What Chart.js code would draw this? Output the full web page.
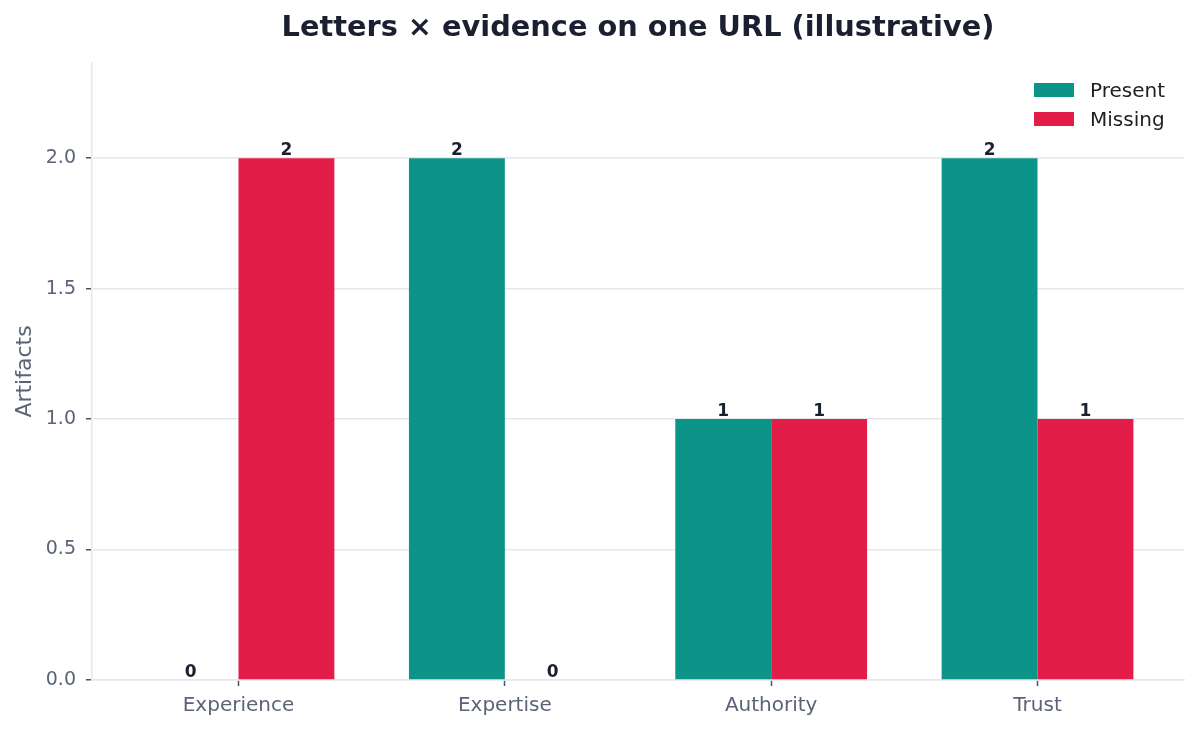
<!DOCTYPE html>
<html>
<head>
<meta charset="utf-8">
<script src="https://cdn.jsdelivr.net/npm/chart.js@4"></script>
<style>
html,body{margin:0;padding:0;background:#fff;}
#wrap{width:1199px;height:731px;position:relative;}
</style>
</head>
<body>
<div id="wrap"><canvas id="c"></canvas></div>
<script>
const categories = ["Experience", "Expertise", "Authority", "Trust"];
const presentValues = [0, 2, 1, 2];
const missingValues = [2, 0, 1, 1];
const seriesLabels = ["Present", "Missing"];
const yTicks = [0, 0.5, 1.0, 1.5, 2.0];
const chartTitle = "Letters × evidence on one URL (illustrative)";

const FONT = "'DejaVu Sans', sans-serif";
const TEAL = "#0d9488";
const ROSE = "#e11d48";

const toPoints = arr => arr.map((v, i) => ({x: i, y: v}));

const valueLabels = {
  id: 'valueLabels',
  afterDatasetsDraw(chart) {
    const ctx = chart.ctx;
    ctx.save();
    ctx.font = "bold 17px " + FONT;
    ctx.fillStyle = "#1a2030";
    ctx.textAlign = "center";
    ctx.textBaseline = "alphabetic";
    chart.data.datasets.forEach((ds, di) => {
      const meta = chart.getDatasetMeta(di);
      meta.data.forEach((el, i) => {
        ctx.fillText(String(ds.data[i].y), el.x, el.y - 3);
      });
    });
    ctx.restore();
  }
};

const axesTitle = {
  id: 'axesTitle',
  afterDraw(chart) {
    const ctx = chart.ctx;
    const a = chart.chartArea;
    ctx.save();
    ctx.font = "bold 28.8px " + FONT;
    ctx.fillStyle = "#1a2030";
    ctx.textAlign = "center";
    ctx.textBaseline = "middle";
    ctx.fillText(chartTitle, (a.left + a.right) / 2, 29);
    ctx.restore();
  }
};

const innerLegend = {
  id: 'innerLegend',
  afterDraw(chart) {
    const ctx = chart.ctx;
    const a = chart.chartArea;
    ctx.save();
    ctx.font = "20px " + FONT;
    ctx.textBaseline = "middle";
    ctx.textAlign = "left";
    chart.data.datasets.forEach((ds, di) => {
      const x = a.right - 150;
      const y = a.top + 20 + di * 29;
      ctx.fillStyle = ds.backgroundColor;
      ctx.fillRect(x, y, 40, 14);
      ctx.fillStyle = "#1f1f1f";
      ctx.fillText(ds.label, x + 56, y + 9);
    });
    ctx.restore();
  }
};

new Chart(document.getElementById('c'), {
  type: 'bar',
  data: {
    datasets: [
      {label: seriesLabels[0], data: toPoints(presentValues), backgroundColor: TEAL, borderWidth: 0},
      {label: seriesLabels[1], data: toPoints(missingValues), backgroundColor: ROSE, borderWidth: 0}
    ]
  },
  options: {
    responsive: true,
    maintainAspectRatio: false,
    animation: false,
    devicePixelRatio: 1,
    layout: {padding: {left: 0, right: 15, top: 63, bottom: 0}},
    datasets: {bar: {categoryPercentage: 0.72, barPercentage: 1.0}},
    plugins: {
      legend: {display: false},
      tooltip: {enabled: false},
      title: {display: false}
    },
    scales: {
      x: {
        type: 'linear',
        min: -0.55,
        max: 3.55,
        offset: false,
        afterBuildTicks: s => { s.ticks = categories.map((_, i) => ({value: i})); },
        afterFit: s => { s.height = 51; },
        ticks: {
          callback: v => categories[v] ?? '',
          color: "#5b6477",
          font: {family: FONT, size: 20},
          padding: 8,
          maxRotation: 0,
          autoSkip: false
        },
        grid: {display: true, offset: false, drawOnChartArea: false, tickColor: "#4b5563", tickLength: 6, tickWidth: 1.5},
        border: {color: "#e5e7eb", width: 1.5}
      },
      y: {
        min: 0,
        max: 2.365,
        afterBuildTicks: s => { s.ticks = yTicks.map(v => ({value: v})); },
        afterFit: s => { s.width = 92; },
        ticks: {
          callback: v => Number(v).toFixed(1),
          color: "#5b6477",
          font: {family: FONT, size: 19},
          padding: 10
        },
        grid: {color: "#e5e7eb", lineWidth: 1.5, tickColor: "#4b5563", tickLength: 6, tickWidth: 1.5},
        border: {color: "#e5e7eb", width: 1.5},
        title: {
          display: true,
          text: "Artifacts",
          color: "#5b6477",
          font: {family: FONT, size: 22},
          padding: {top: 12, bottom: 0}
        }
      }
    }
  },
  plugins: [valueLabels, axesTitle, innerLegend]
});
</script>
</body>
</html>
